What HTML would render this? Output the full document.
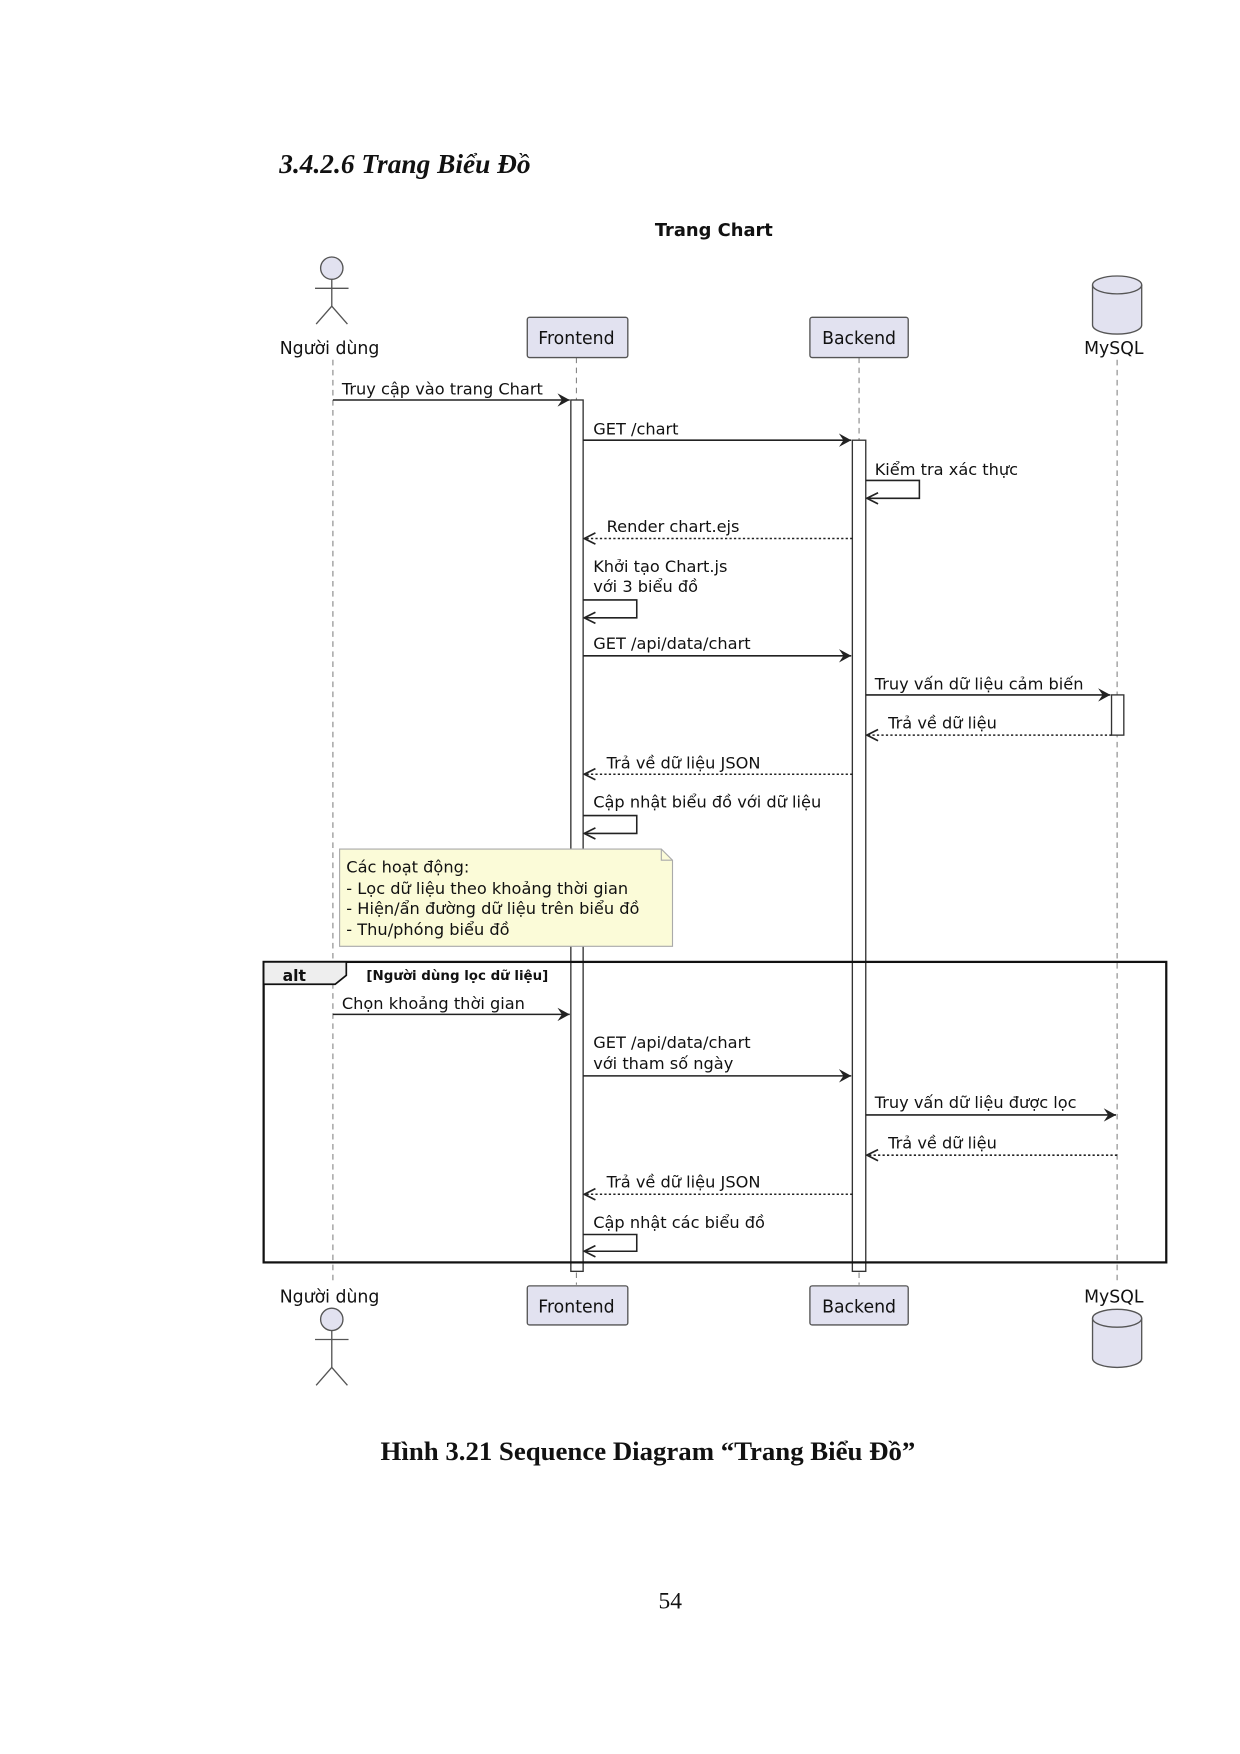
<!DOCTYPE html>
<html><head><meta charset="utf-8"><style>
html,body{margin:0;padding:0;background:#fff}
svg{display:block}
text{font-family:"DejaVu Sans","Liberation Sans",sans-serif;font-size:14.5px;fill:#111}
.t{font-family:"Liberation Serif",serif}
</style></head><body>
<svg width="1240" height="1754" viewBox="0 0 1110 1570" xmlns="http://www.w3.org/2000/svg">
<defs>
<marker id="a" markerWidth="12" markerHeight="12" refX="11" refY="6" orient="auto" markerUnits="userSpaceOnUse">
<path d="M0,0 L11,6 L0,12 L4,6 Z" fill="#222"/></marker>
<marker id="o" markerWidth="12" markerHeight="12" refX="11" refY="6" orient="auto" markerUnits="userSpaceOnUse">
<path d="M1,1 L11,6 L1,11" fill="none" stroke="#222" stroke-width="1.5"/></marker>
</defs>
<text class="t" x="250" y="155" style="font-size:24.5px;font-style:italic;font-weight:bold">3.4.2.6 Trang Biểu Đồ</text>
<text x="639" y="211" text-anchor="middle" style="font-weight:bold;font-size:16px">Trang Chart</text>

<g stroke="#888" stroke-dasharray="5,4" stroke-width="1">
<line x1="298" y1="322" x2="298" y2="1150"/>
<line x1="516" y1="320" x2="516" y2="1150"/>
<line x1="769" y1="320" x2="769" y2="1150"/>
<line x1="1000" y1="322" x2="1000" y2="1150"/>
</g>

<g fill="#e2e2f0" stroke="#555" stroke-width="1.2">
<circle cx="297" cy="240" r="10"/>
<rect x="472" y="284" width="90" height="36" rx="2"/>
<rect x="725" y="284" width="88" height="36" rx="2"/>
<path d="M978,255 v36 a22,8 0 0 0 44,0 v-36"/>
<ellipse cx="1000" cy="255" rx="22" ry="8"/>
</g>
<g stroke="#555" stroke-width="1.2" fill="none">
<line x1="297" y1="250" x2="297" y2="274"/><line x1="282" y1="258" x2="312" y2="258"/>
<path d="M283,290 L297,274 L311,290"/>
</g>
<text x="295" y="317" text-anchor="middle" style="font-size:15.5px">Người dùng</text>
<text x="516" y="308" text-anchor="middle" style="font-size:15.5px">Frontend</text>
<text x="769" y="308" text-anchor="middle" style="font-size:15.5px">Backend</text>
<text x="997" y="317" text-anchor="middle" style="font-size:15.5px">MySQL</text>

<g fill="#e2e2f0" stroke="#555" stroke-width="1.2">
<circle cx="297" cy="1181" r="10"/>
<rect x="472" y="1151" width="90" height="35" rx="2"/>
<rect x="725" y="1151" width="88" height="35" rx="2"/>
<path d="M978,1180 v36 a22,8 0 0 0 44,0 v-36"/>
<ellipse cx="1000" cy="1180" rx="22" ry="8"/>
</g>
<g stroke="#555" stroke-width="1.2" fill="none">
<line x1="297" y1="1191" x2="297" y2="1224"/><line x1="282" y1="1199" x2="312" y2="1199"/>
<path d="M283,1240 L297,1224 L311,1240"/>
</g>
<text x="295" y="1166" text-anchor="middle" style="font-size:15.5px">Người dùng</text>
<text x="516" y="1175" text-anchor="middle" style="font-size:15.5px">Frontend</text>
<text x="769" y="1175" text-anchor="middle" style="font-size:15.5px">Backend</text>
<text x="997" y="1166" text-anchor="middle" style="font-size:15.5px">MySQL</text>

<g fill="#fff" stroke="#333" stroke-width="1.2">
<rect x="511" y="358" width="11" height="780"/>
<rect x="763" y="394" width="12" height="744"/>
<rect x="995" y="622" width="11" height="36"/>
</g>

<g stroke="#222" stroke-width="1.4" fill="none">
<line x1="298" y1="358" x2="510" y2="358" marker-end="url(#a)"/>
<line x1="522" y1="394" x2="762" y2="394" marker-end="url(#a)"/>
<path d="M775,430 H823 V446 H776" marker-end="url(#o)"/>
<line x1="763" y1="482" x2="523" y2="482" stroke-dasharray="2,2" marker-end="url(#o)"/>
<path d="M522,537 H570 V553 H523" marker-end="url(#o)"/>
<line x1="522" y1="587" x2="762" y2="587" marker-end="url(#a)"/>
<line x1="775" y1="622" x2="994" y2="622" marker-end="url(#a)"/>
<line x1="995" y1="658" x2="776" y2="658" stroke-dasharray="2,2" marker-end="url(#o)"/>
<line x1="763" y1="693" x2="523" y2="693" stroke-dasharray="2,2" marker-end="url(#o)"/>
<path d="M522,730 H570 V746 H523" marker-end="url(#o)"/>
<line x1="298" y1="908" x2="510" y2="908" marker-end="url(#a)"/>
<line x1="522" y1="963" x2="762" y2="963" marker-end="url(#a)"/>
<line x1="775" y1="998" x2="999" y2="998" marker-end="url(#a)"/>
<line x1="1000" y1="1034" x2="776" y2="1034" stroke-dasharray="2,2" marker-end="url(#o)"/>
<line x1="763" y1="1069" x2="523" y2="1069" stroke-dasharray="2,2" marker-end="url(#o)"/>
<path d="M522,1105 H570 V1120 H523" marker-end="url(#o)"/>
</g>
<text x="306" y="353">Truy cập vào trang Chart</text>
<text x="531" y="389">GET /chart</text>
<text x="783" y="425">Kiểm tra xác thực</text>
<text x="543" y="476">Render chart.ejs</text>
<text x="531" y="512">Khởi tạo Chart.js</text>
<text x="531" y="530">với 3 biểu đồ</text>
<text x="531" y="581">GET /api/data/chart</text>
<text x="783" y="617">Truy vấn dữ liệu cảm biến</text>
<text x="795" y="652">Trả về dữ liệu</text>
<text x="543" y="688">Trả về dữ liệu JSON</text>
<text x="531" y="723">Cập nhật biểu đồ với dữ liệu</text>

<path d="M304,760 H592 L602,770 V847 H304 Z" fill="#fbfbd8" stroke="#aaa" stroke-width="1"/>
<path d="M592,760 V770 H602" fill="none" stroke="#aaa"/>
<text x="310" y="781">Các hoạt động:</text>
<text x="310" y="800">- Lọc dữ liệu theo khoảng thời gian</text>
<text x="310" y="818">- Hiện/ẩn đường dữ liệu trên biểu đồ</text>
<text x="310" y="837">- Thu/phóng biểu đồ</text>

<rect x="236" y="861" width="808" height="269" fill="none" stroke="#111" stroke-width="2"/>
<path d="M236,861 H310 V873 L300,881 H236 Z" fill="#eee" stroke="#111" stroke-width="1.5"/>
<text x="253" y="878" style="font-weight:bold;font-size:14px">alt</text>
<text x="328" y="877" style="font-weight:bold;font-size:12px">[Người dùng lọc dữ liệu]</text>
<text x="306" y="903">Chọn khoảng thời gian</text>
<text x="531" y="938">GET /api/data/chart</text>
<text x="531" y="957">với tham số ngày</text>
<text x="783" y="992">Truy vấn dữ liệu được lọc</text>
<text x="795" y="1028">Trả về dữ liệu</text>
<text x="543" y="1063">Trả về dữ liệu JSON</text>
<text x="531" y="1099">Cập nhật các biểu đồ</text>

<text class="t" x="580" y="1307" text-anchor="middle" style="font-size:24px;font-weight:bold">Hình 3.21 Sequence Diagram “Trang Biểu Đồ”</text>
<text class="t" x="600" y="1440" text-anchor="middle" style="font-size:21px">54</text>
</svg>
</body></html>
